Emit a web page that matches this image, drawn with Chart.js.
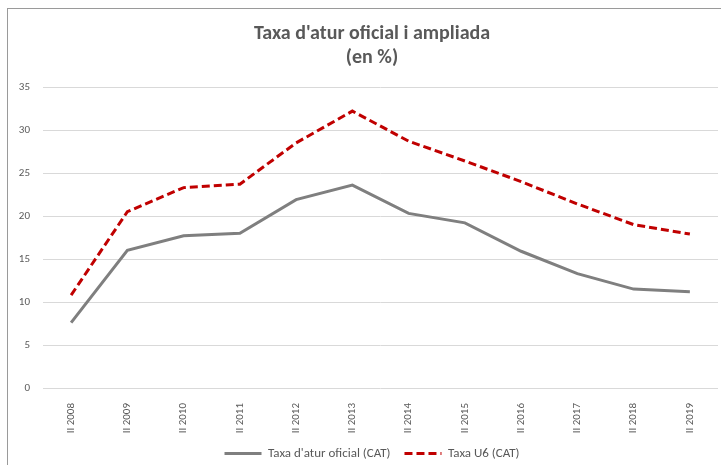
<!DOCTYPE html>
<html>
<head>
<meta charset="utf-8">
<script src="https://cdn.jsdelivr.net/npm/chart.js@4"></script>
<style>
  html, body { margin: 0; padding: 0; background: #fff; }
  #wrap { position: relative; width: 721px; height: 465px; overflow: hidden; }
  #frame { position: absolute; left: 7px; top: 8px; width: 800px; height: 600px; border: 1px solid #9a9a9a; }
  #myChart { position: absolute; left: 0; top: 0; }
</style>
</head>
<body>
<div id="wrap">
  <div id="frame"></div>
  <canvas id="myChart" width="744" height="470"></canvas>
</div>
<script>
var Labels = ['II 2008', 'II 2009', 'II 2010', 'II 2011', 'II 2012', 'II 2013',
              'II 2014', 'II 2015', 'II 2016', 'II 2017', 'II 2018', 'II 2019'];
var Oficial = [7.6, 16.0, 17.7, 18.0, 21.9, 23.6, 20.3, 19.2, 15.9, 13.3, 11.5, 11.2];
var U6 = [10.8, 20.5, 23.3, 23.7, 28.5, 32.2, 28.7, 26.4, 24.0, 21.4, 19.0, 17.9];
var TitleLines = ["Taxa d'atur oficial i ampliada", '(en %)'];

var font = "Calibri, Carlito, 'Liberation Sans Narrow', 'DejaVu Sans Condensed', 'Open Sans', sans-serif";
Chart.defaults.font.family = font;
Chart.defaults.color = '#595959';

var baseLabels = Chart.defaults.plugins.legend.labels.generateLabels;

// the Excel frame is wider than the picture, so the canvas runs past the right/bottom edge
var ctx = document.getElementById('myChart').getContext('2d');
var myChart = new Chart(ctx, {
    type: 'line',
    data: {
        labels: Labels,
        datasets: [{
            label: "Taxa d'atur oficial (CAT)",
            data: Oficial,
            borderColor: '#7f7f7f',
            backgroundColor: '#7f7f7f',
            borderWidth: 3,
            pointRadius: 0,
            tension: 0
        }, {
            label: 'Taxa U6 (CAT)',
            data: U6,
            borderColor: '#c00000',
            backgroundColor: '#c00000',
            borderWidth: 3,
            borderDash: [8, 4],
            pointRadius: 0,
            tension: 0
        }]
    },
    options: {
        responsive: false,
        animation: false,
        layout: { padding: { left: 6, right: 6, top: 0, bottom: 0 } },
        plugins: {
            title: {
                display: true,
                text: TitleLines,
                color: '#595959',
                font: { size: 20, weight: 'bold', lineHeight: 1.2 },
                padding: { top: 22, bottom: 17 }
            },
            legend: {
                position: 'bottom',
                labels: {
                    usePointStyle: true,
                    pointStyle: 'line',
                    pointStyleWidth: 37,
                    boxHeight: 8,
                    color: '#595959',
                    font: { size: 13 },
                    padding: 14,
                    // point style drops the dataset dash, put it back
                    generateLabels: function(chart) {
                        var items = baseLabels(chart);
                        items.forEach(function(item) {
                            var ds = chart.data.datasets[item.datasetIndex];
                            item.lineDash = ds.borderDash || [];
                            item.lineWidth = 3;
                            item.strokeStyle = ds.borderColor;
                        });
                        return items;
                    }
                }
            },
            tooltip: { enabled: false }
        },
        scales: {
            x: {
                offset: true,
                grid: { display: false },
                border: { display: false },
                ticks: {
                    minRotation: 90,
                    maxRotation: 90,
                    autoSkip: false,
                    color: '#595959',
                    font: { size: 11 },
                    padding: 7
                },
                afterFit: function(scale) { scale.height = 45; }
            },
            y: {
                min: 0,
                max: 35,
                grid: { color: '#d9d9d9', lineWidth: 1, drawTicks: false },
                border: { display: false },
                ticks: {
                    stepSize: 5,
                    color: '#595959',
                    font: { size: 11 },
                    padding: 13
                },
                afterFit: function(scale) { scale.width = 37; }
            },
            // empty spacer on the right so title and legend centre like the original
            yRight: {
                position: 'right',
                grid: { display: false },
                border: { display: false },
                ticks: { display: false },
                afterFit: function(scale) { scale.width = 20; }
            }
        }
    }
});
</script>
</body>
</html>
